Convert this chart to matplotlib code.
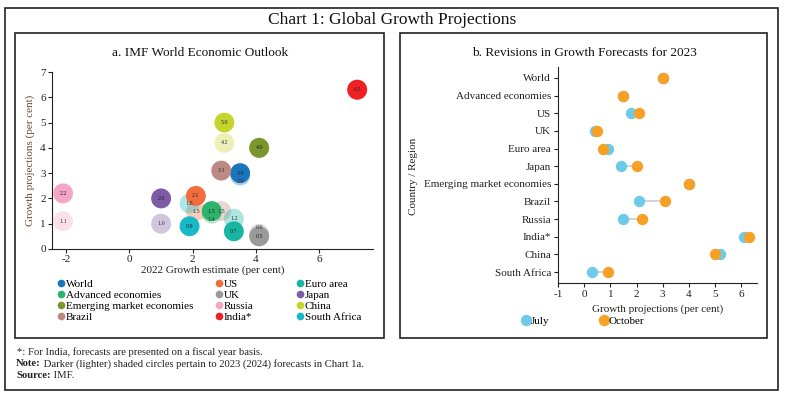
import matplotlib.pyplot as plt
from matplotlib.patches import Rectangle
from matplotlib.lines import Line2D

plt.rcParams['font.family'] = ['Liberation Serif', 'DejaVu Serif']
plt.rcParams['axes.unicode_minus'] = False

# Panel a: IMF World Economic Outlook (legend column order)
paises = ['World', 'Advanced economies', 'Emerging market economies', 'Brazil',
          'US', 'UK', 'Russia', 'India*',
          'Euro area', 'Japan', 'China', 'South Africa']
cresc_2022 = [3.5, 2.6, 4.1, 2.9, 2.1, 4.1, -2.1, 7.2, 3.3, 1.0, 3.0, 1.9]
proj_2023 = [3.0, 1.5, 4.0, 3.1, 2.1, 0.5, 2.2, 6.3, 0.7, 2.0, 5.0, 0.9]
proj_2024 = [2.9, 1.4, 4.0, 1.5, 1.5, 0.6, 1.1, 6.3, 1.2, 1.0, 4.2, 1.8]
cores = ['#1a75bc', '#2db36b', '#7a962c', '#bc8a82',
         '#f26d3d', '#9a9a9a', '#f4a6c8', '#ee2024',
         '#19b5a3', '#7d5ba6', '#c4d62e', '#17b9c6']

# Panel b: revisions for 2023
regioes = ['World', 'Advanced economies', 'US', 'UK', 'Euro area', 'Japan',
           'Emerging market economies', 'Brazil', 'Russia', 'India*', 'China',
           'South Africa']
julho = [3.0, 1.5, 1.8, 0.4, 0.9, 1.4, 4.0, 2.1, 1.5, 6.1, 5.2, 0.3]
outubro = [3.0, 1.5, 2.1, 0.5, 0.7, 2.0, 4.0, 3.1, 2.2, 6.3, 5.0, 0.9]

W, H = 785, 396
fig = plt.figure(figsize=(W / 100, H / 100), dpi=100)


def caixa(x0, y0, x1, y1, lw=1.2):
    # retangulo em pixels da imagem (origem no topo)
    fig.patches.append(Rectangle((x0 / W, 1 - y1 / H), (x1 - x0) / W, (y1 - y0) / H,
                                 transform=fig.transFigure, fill=False,
                                 edgecolor='#222222', lw=lw))


caixa(5, 8, 778, 390)
caixa(15, 33, 384, 338)
caixa(400, 33, 767, 338)

fig.text(392 / W, 1 - 20 / H, 'Chart 1: Global Growth Projections',
         ha='center', va='center', fontsize=12.5, color='#111111')
fig.text(200 / W, 1 - 53 / H, 'a. IMF World Economic Outlook',
         ha='center', va='center', fontsize=9.5, color='#111111')
fig.text(584 / W, 1 - 53 / H, 'b. Revisions in Growth Forecasts for 2023',
         ha='center', va='center', fontsize=9.5, color='#111111')

# ---- panel a ----
ax1 = fig.add_axes([52 / W, 147 / H, 321 / W, 177 / H])
for x, y23, y24, c in zip(cresc_2022, proj_2023, proj_2024, cores):
    ax1.scatter(x, y24, s=205, color=c, alpha=0.35, edgecolors='none', zorder=2)
for nome, x, y23, y24, c in zip(paises, cresc_2022, proj_2023, proj_2024, cores):
    ax1.scatter(x, y23, s=205, color=c, edgecolors='none', zorder=3, label=nome)
    ax1.text(x, y23, f'{y23:.1f}', fontsize=4.3, ha='center', va='center',
             color='#222222', zorder=5)
    if y24 != y23:
        dif = y24 - y23
        # rotulo do circulo claro desloca um pouco quando os dois se sobrepoem
        dy = 0 if abs(dif) >= 0.3 else (0.25 if dif > 0 else -0.25)
        ax1.text(x, y24 + dy, f'{y24:.1f}', fontsize=4.3, ha='center', va='center',
                 color='#333333', zorder=5)

ax1.set_xlim(-2.45, 7.7)
ax1.set_ylim(0, 7)
ax1.set_xticks([-2, 0, 2, 4, 6])
ax1.set_yticks(range(8))
for s in ['top', 'right']:
    ax1.spines[s].set_visible(False)
for s in ['left', 'bottom']:
    ax1.spines[s].set_color('#222222')
ax1.tick_params(labelsize=8, length=3, colors='#222222', pad=1.5)
ax1.set_xlabel('2022 Growth estimate (per cent)', fontsize=8, labelpad=1, color='#222222')
ax1.set_ylabel('Growth projections (per cent)', fontsize=8, labelpad=4, color='#6b4a2b')

colunas_x = [58, 216, 297]
for i in range(3):
    hs = [Line2D([], [], ls='none', marker='o', ms=4.5, color=cores[j])
          for j in range(4 * i, 4 * i + 4)]
    fig.legend(hs, paises[4 * i:4 * i + 4], loc='upper left',
               bbox_to_anchor=(colunas_x[i] / W, 1 - 279 / H), frameon=False,
               fontsize=8, handlelength=0.5, handletextpad=0.2,
               labelspacing=0.12, borderpad=0, borderaxespad=0)

# ---- panel b ----
ax2 = fig.add_axes([558 / W, 113 / H, 199 / W, 216 / H])
pos = list(range(len(regioes)))
for i, (a, b) in enumerate(zip(julho, outubro)):
    ax2.plot([a, b], [i, i], color='#cfcfcf', lw=1.3, zorder=1)
ax2.plot(julho, pos, 'o', ls='none', ms=7.2, color='#6fcaea', zorder=2, label='July')
ax2.plot(outubro, pos, 'o', ls='none', ms=7.2, color='#f6a125', zorder=3, label='October')
ax2.set_yticks(pos)
ax2.set_yticklabels(regioes)
ax2.set_ylim(len(regioes) - 1 + 0.62, -0.62)
ax2.set_xlim(-1, 6.6)
ax2.set_xticks(range(-1, 7))
for s in ['top', 'right']:
    ax2.spines[s].set_visible(False)
for s in ['left', 'bottom']:
    ax2.spines[s].set_color('#222222')
ax2.tick_params(labelsize=8, length=3, colors='#222222', pad=2)
ax2.set_xlabel('Growth projections (per cent)', fontsize=8, labelpad=4, color='#222222')
fig.text(413 / W, 1 - 176 / H, 'Country / Region', rotation=90, ha='center',
         va='center', fontsize=8, color='#222222')
fig.legend(*ax2.get_legend_handles_labels(), loc='center left',
           bbox_to_anchor=(523 / W, 1 - 321 / H), ncol=2, frameon=False,
           fontsize=8, handlelength=0.6, handletextpad=0.1, columnspacing=4.6,
           borderpad=0, borderaxespad=0)

# ---- notas ----
fig.text(17 / W, 1 - 352 / H, '*: For India, forecasts are presented on a fiscal year basis.',
         fontsize=7.7, va='center', color='#222222')
t_nota = fig.text(16 / W, 1 - 364 / H, 'Note:', fontsize=7.7, va='center',
                  fontweight='bold', color='#222222')
fig.add_artist(plt.Annotation(' Darker (lighter) shaded circles pertain to 2023 (2024) forecasts in Chart 1a.',
                              xy=(1, 0.5), xycoords=t_nota, va='center', fontsize=7.7,
                              color='#222222'))
t_fonte = fig.text(16 / W, 1 - 376 / H, 'Source:', fontsize=7.7, va='center',
                   fontweight='bold', color='#222222')
fig.add_artist(plt.Annotation(' IMF.', xy=(1, 0.5), xycoords=t_fonte, va='center',
                              fontsize=7.7, color='#222222'))

fig.savefig('out.png', dpi=100)
